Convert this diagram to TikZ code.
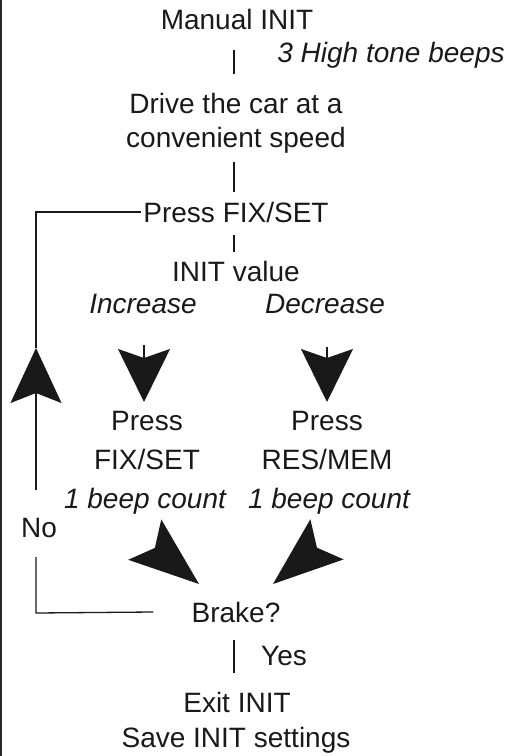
\documentclass[tikz,border=0pt]{standalone}
\usepackage{fontspec}
\setmainfont{Liberation Sans}
\usetikzlibrary{arrows.meta,calc}
\begin{document}
\begin{tikzpicture}[x=1pt,y=-1pt,
  txt/.style={inner sep=0pt, anchor=base, text=black!90, font=\fontsize{28}{34}\selectfont},
  itx/.style={txt, font=\fontsize{28}{34}\selectfont\itshape},
  conn/.style={line width=1.3pt, black!90},
  downhead/.style={conn, -{Stealth[length=53pt, width=52pt, inset=9pt]}},
  uphead/.style={conn, -{Stealth[length=55pt, width=51pt, inset=10pt]}},
  diaghead/.style={conn, -{Stealth[length=70pt, width=52pt, inset=13pt]}},
]
\useasboundingbox (0,0) rectangle (512,756);
% frame edge
\draw[line width=2.4pt, black!85] (1.2,0) -- (1.2,756);

% nodes
\node[txt] (manual) at (237,29) {Manual INIT};
\node[itx] (beeps) at (391,62) {3 High tone beeps};
\node[txt] (drive1) at (236,113) {Drive the car at a};
\node[txt] (drive2) at (236,147) {convenient speed};
\node[txt] (pressfix) at (236,222) {Press FIX/SET};
\node[txt] (initval) at (236,281) {INIT value};
\node[itx] (inc) at (143,313) {Increase};
\node[itx] (dec) at (325,313) {Decrease};
\node[txt] (pressL) at (147,430) {Press};
\node[txt] (fixset) at (147,469) {FIX/SET};
\node[itx] (beepL) at (145,508) {1 beep count};
\node[txt] (pressR) at (327,430) {Press};
\node[txt] (resmem) at (327,469) {RES/MEM};
\node[itx] (beepR) at (329,508) {1 beep count};
\node[txt] (no) at (39,537) {No};
\node[txt] (brake) at (236,622) {Brake?};
\node[txt] (yes) at (284,665) {Yes};
\node[txt] (exit) at (237,712) {Exit INIT};
\node[txt] (save) at (236,747) {Save INIT settings};

% main spine connectors
\draw[conn] ($(manual.base)+(-3,21)$) -- ($(drive1.base)+(-2,-39)$);
\draw[conn] ($(drive2.base)+(-2,15)$) -- ($(pressfix.base)+(-2,-30)$);
\draw[conn] ($(pressfix.base)+(-2,13)$) -- ($(initval.base)+(-2,-29)$);
\draw[conn] ($(brake.base)+(-2,18)$) -- ($(exit.base)+(-3,-39)$);

% increase / decrease arrows
\coordinate (incS) at ($(inc.base)+(1,32)$);
\coordinate (incT) at ($(inc.base)+(1,89)$);
\coordinate (decS) at ($(dec.base)+(2,34)$);
\coordinate (decT) at ($(dec.base)+(2,89)$);
\draw[downhead] (incS) -- (incT);
\draw[downhead] (decS) -- (decT);

% diagonal arrows into Brake?
\coordinate (dLS) at ($(beepL.base)+(10,40)$);
\coordinate (dLT) at ($(beepL.base)+(54,76)$);
\coordinate (dRS) at ($(beepR.base)+(-12.5,40)$);
\coordinate (dRT) at ($(beepR.base)+(-56,76)$);
\draw[diaghead] (dLS) -- (dLT);
\draw[diaghead] (dRS) -- (dRT);

% "No" loop back to Press FIX/SET
\coordinate (loopA) at (36,613);
\coordinate (loopB) at (36,557);
\coordinate (loopC) at (36,490);
\coordinate (loopD) at (36,348);
\draw[conn] ([xshift=-38pt]brake.west) -- (loopA) -- (loopB);
\draw[uphead] (loopC) -- (loopD);
\draw[conn] (loopD) |- ([xshift=-2pt]pressfix.west);
\end{tikzpicture}
\end{document}
